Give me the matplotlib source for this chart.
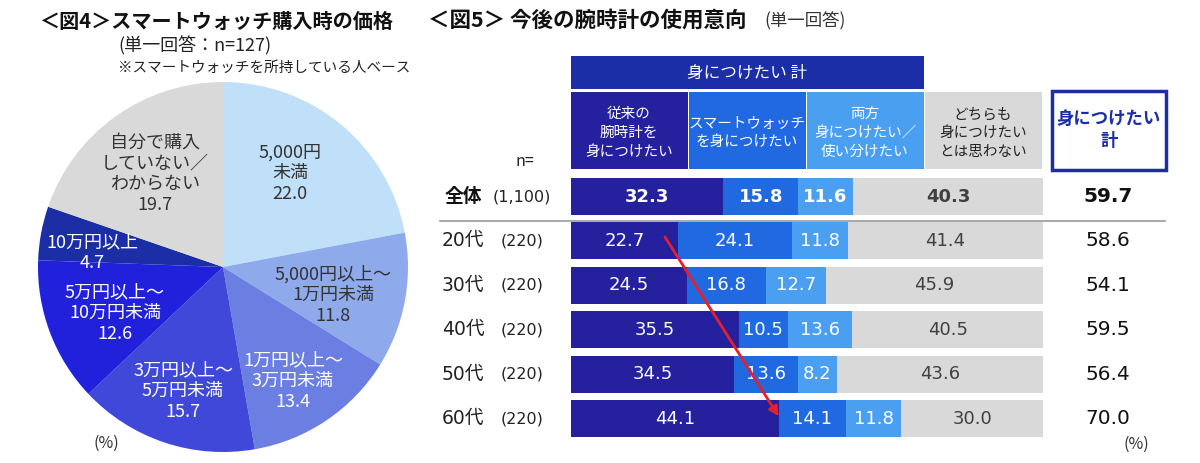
import matplotlib
matplotlib.use('Agg')
import matplotlib.pyplot as plt
from matplotlib.patches import Rectangle

plt.rcParams['font.family'] = ['Noto Sans CJK JP', 'DejaVu Sans']
NUM_FONT = ['DejaVu Sans', 'Noto Sans CJK JP']

# ---------------- Fig.4 data ----------------
pie_labels = ['5,000円\n未満', '5,000円以上～\n1万円未満', '1万円以上～\n3万円未満',
              '3万円以上～\n5万円未満', '5万円以上～\n10万円未満', '10万円以上',
              '自分で購入\nしていない／\nわからない']
pie_values = [22.0, 11.8, 13.4, 15.7, 12.6, 4.7, 19.7]

# ---------------- Fig.5 data ----------------
groups = ['全体', '20代', '30代', '40代', '50代', '60代']
group_n = ['(1,100)', '(220)', '(220)', '(220)', '(220)', '(220)']
series_names = ['従来の\n腕時計を\n身につけたい', 'スマートウォッチ\nを身につけたい',
                '両方\n身につけたい／\n使い分けたい', 'どちらも\n身につけたい\nとは思わない']
traditional = [32.3, 22.7, 24.5, 35.5, 34.5, 44.1]
smartwatch = [15.8, 24.1, 16.8, 10.5, 13.6, 14.1]
both = [11.6, 11.8, 12.7, 13.6, 8.2, 11.8]
neither = [40.3, 41.4, 45.9, 40.5, 43.6, 30.0]
want_total = [59.7, 58.6, 54.1, 59.5, 56.4, 70.0]

# ---------------- styles / layout ----------------
pie_colors = ['#bfe0f8', '#8eaaea', '#6b7ee2', '#3f48d8', '#2121dc', '#1b2ea6', '#d9d9d9']
pie_text_colors = ['#333333', '#333333', 'white', 'white', 'white', 'white', '#333333']
pie_label_px = [(290, 173), (333, 295), (293, 381), (183, 391), (115, 313), (92, 253), (155, 174)]
bar_colors = ['#24209e', '#2069e0', '#4a9ff0', '#d9d9d9']
bar_text_colors = ['white', 'white', 'white', '#404040']
HEAD_BLUE = '#1b2ea8'

W, H = 1200, 463
fig = plt.figure(figsize=(W / 100, H / 100), dpi=100)


def px_axes(l, t, w, h, **kw):
    return fig.add_axes([l / W, 1 - (t + h) / H, w / W, h / H], **kw)


# ---------------- Pie ----------------
cx, cy, R = 223, 267, 185
pax = px_axes(cx - R, cy - R, 2 * R, 2 * R)
pax.pie(pie_values, colors=pie_colors, startangle=90, counterclock=False,
        wedgeprops=dict(linewidth=0))
pax.set_xlim(-1, 1)
pax.set_ylim(-1, 1)
pax.axis('off')

# ---------------- Bars ----------------
row_top, row_step = 196.5, 44.4
bax = px_axes(571, row_top - row_step / 2, 472, row_step * len(groups))
bax.set_xlim(0, 100)
bax.set_ylim(len(groups) - 0.5, -0.5)
bax.axis('off')
series = [traditional, smartwatch, both, neither]
ypos = list(range(len(groups)))
left = [0.0] * len(groups)
for si, vals in enumerate(series):
    bax.barh(ypos, vals, left=left, height=0.83, color=bar_colors[si], linewidth=0)
    for i, v in enumerate(vals):
        bax.text(left[i] + v / 2, i, f'{v:.1f}', ha='center', va='center',
                 color=bar_text_colors[si], fontsize=13, family=NUM_FONT,
                 fontweight='bold' if i == 0 else 'normal')
    left = [a + b for a, b in zip(left, vals)]

# red arrow
bax.annotate('', xy=(44.0, 4.95), xytext=(19.9, 0.91),
             arrowprops=dict(arrowstyle='-|>', color='#e3202c', lw=2, mutation_scale=14,
                             shrinkA=0, shrinkB=0),
             annotation_clip=False, zorder=6)

# ---------------- Overlay (pixel coordinates) ----------------
ov = px_axes(0, 0, W, H)
ov.set_xlim(0, W)
ov.set_ylim(H, 0)
ov.axis('off')
ov.patch.set_alpha(0)
ov.set_zorder(10)

# pie labels
for lab, val, (x, y), c in zip(pie_labels, pie_values, pie_label_px, pie_text_colors):
    ov.text(x, y, f'{lab}\n{val:.1f}', ha='center', va='center', color=c,
            fontsize=13, linespacing=1.2)

ov.text(40, 21, '＜図4＞スマートウォッチ購入時の価格', fontsize=14.5, fontweight='bold',
        va='center', ha='left', color='#111111')
ov.text(118, 46, '(単一回答：n=127)', fontsize=13, va='center', ha='left', color='#222222')
ov.text(118, 68, '※スマートウォッチを所持している人ベース', fontsize=10.5, va='center',
        ha='left', color='#222222')
ov.text(106, 443, '(%)', fontsize=11.5, va='center', ha='center', color='#333333')

# fig5 title
ov.text(428, 20, '＜図5＞ 今後の腕時計の使用意向', fontsize=15.5, fontweight='bold',
        va='center', ha='left', color='#111111')
ov.text(764, 21, '(単一回答)', fontsize=12.5, va='center', ha='left', color='#333333')

# header boxes
ov.add_patch(Rectangle((571, 56), 353, 33, facecolor=HEAD_BLUE, edgecolor='none'))
ov.text(571 + 353 / 2, 73, '身につけたい 計', color='white', fontsize=12,
        ha='center', va='center')
for i, name in enumerate(series_names):
    x0 = 571 + i * 118
    ov.add_patch(Rectangle((x0, 92), 116.5, 77, facecolor=bar_colors[i], edgecolor='none'))
    ov.text(x0 + 58, 133, name, color=bar_text_colors[i] if i < 3 else '#222222',
            fontsize=10.5, ha='center', va='center', linespacing=1.42)
ov.add_patch(Rectangle((1052, 91), 114, 79, facecolor='white', edgecolor=HEAD_BLUE,
                       linewidth=2.5))
ov.text(1109, 130, '身につけたい\n計', color=HEAD_BLUE, fontsize=12.5, fontweight='bold',
        ha='center', va='center', linespacing=1.25)
ov.text(525, 162, 'n=', fontsize=11.5, ha='center', va='center', color='#222222')

# separator
ov.plot([440, 1165], [220.5, 220.5], color='#9a9a9a', lw=1.2)

# row labels and totals
for i, (g, n, tot) in enumerate(zip(groups, group_n, want_total)):
    y = row_top + i * row_step
    if i == 0:
        ov.text(445, y, g, fontsize=13.5, fontweight='bold', ha='left', va='center',
                color='#111111')
        ov.text(493, y, n, fontsize=11.5, ha='left', va='center', color='#222222',
                family=NUM_FONT)
    else:
        ov.text(442, y, g, fontsize=13.5, ha='left', va='center', color='#222222',
                family=NUM_FONT)
        ov.text(501, y, n, fontsize=11.5, ha='left', va='center', color='#222222',
                family=NUM_FONT)
    ov.text(1108, y, f'{tot:.1f}', fontsize=14.5, ha='center', va='center',
            color='#111111', family=NUM_FONT, fontweight='bold' if i == 0 else 'normal')

ov.text(1136, 444, '(%)', fontsize=11.5, ha='center', va='center', color='#333333')

fig.savefig('out.png', dpi=100)
